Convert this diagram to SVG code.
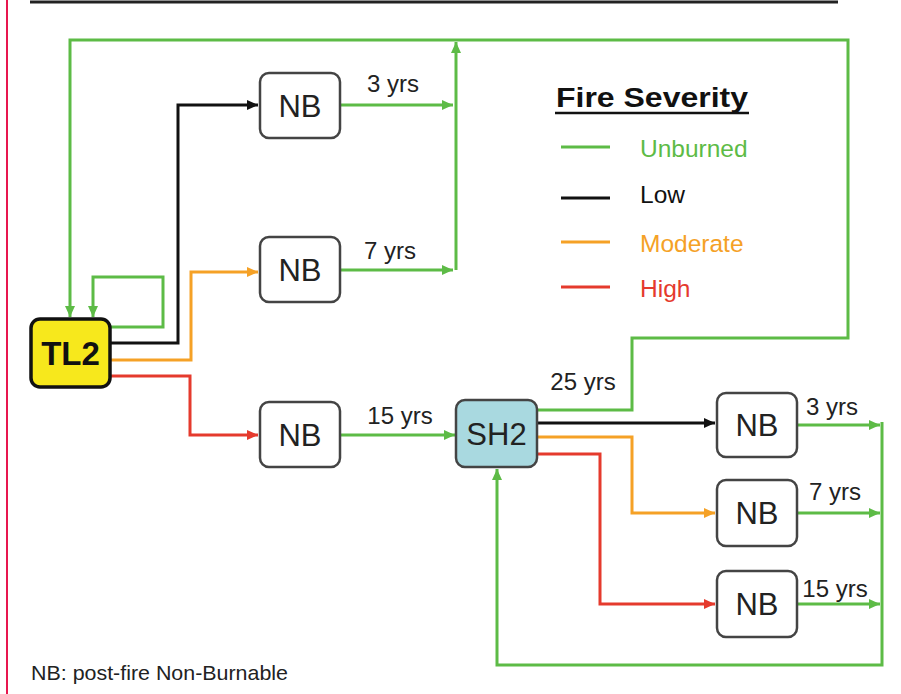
<svg xmlns="http://www.w3.org/2000/svg" width="901" height="694" viewBox="0 0 901 694">
<style>
text{font-family:"Liberation Sans",Arial,sans-serif;fill:#222}
.box{fill:#fff;stroke:#444;stroke-width:2.5}
.nb{font-size:31px;text-anchor:middle}
.lbl{font-size:24px;text-anchor:middle}
.c{fill:none;stroke-width:3;stroke-linejoin:miter}
.g{stroke:#5dbb46}.k{stroke:#111}.o{stroke:#f5a126}.r{stroke:#e53a2d}
.leg{font-size:24.5px}
</style>
<defs>
<marker id="ag" markerUnits="userSpaceOnUse" markerWidth="12" markerHeight="10" refX="11" refY="5" orient="auto"><path d="M0,0 L11,5 L0,10 z" fill="#5dbb46"/></marker>
<marker id="ak" markerUnits="userSpaceOnUse" markerWidth="12" markerHeight="10" refX="11" refY="5" orient="auto"><path d="M0,0 L11,5 L0,10 z" fill="#111"/></marker>
<marker id="ao" markerUnits="userSpaceOnUse" markerWidth="12" markerHeight="10" refX="11" refY="5" orient="auto"><path d="M0,0 L11,5 L0,10 z" fill="#f5a126"/></marker>
<marker id="ar" markerUnits="userSpaceOnUse" markerWidth="12" markerHeight="10" refX="11" refY="5" orient="auto"><path d="M0,0 L11,5 L0,10 z" fill="#e53a2d"/></marker>
</defs>
<rect width="901" height="694" fill="#fff"/>
<line x1="7" y1="0" x2="7" y2="694" stroke="#e8174f" stroke-width="2"/>
<line x1="30" y1="2" x2="838" y2="2" stroke="#222" stroke-width="3"/>

<g id="connectors">
<path class="c g" d="M110,327 H163 V277 H93 V317" marker-end="url(#ag)"/>
<path class="c g" d="M537,410 H632 V338 H848 V40 H70 V317" marker-end="url(#ag)"/>
<path class="c g" d="M340,105 H453" marker-end="url(#ag)"/>
<path class="c g" d="M340,270 H453" marker-end="url(#ag)"/>
<path class="c g" d="M456,270 V42" marker-end="url(#ag)"/>
<path class="c k" d="M110,343 H178 V105 H258" marker-end="url(#ak)"/>
<path class="c o" d="M110,360 H191 V272 H258" marker-end="url(#ao)"/>
<path class="c r" d="M110,376 H190 V435 H258" marker-end="url(#ar)"/>
<path class="c g" d="M340,435 H455" marker-end="url(#ag)"/>
<path class="c k" d="M537,423 H715" marker-end="url(#ak)"/>
<path class="c o" d="M537,437 H632 V513 H715" marker-end="url(#ao)"/>
<path class="c r" d="M537,454 H600 V604 H715" marker-end="url(#ar)"/>
<path class="c g" d="M797,425 H880" marker-end="url(#ag)"/>
<path class="c g" d="M797,513 H880" marker-end="url(#ag)"/>
<path class="c g" d="M797,604 H880" marker-end="url(#ag)"/>
<path class="c g" d="M882,422 V665 H497 V469" marker-end="url(#ag)"/>
<text class="lbl" x="393" y="92">3 yrs</text>
<text class="lbl" x="390" y="259">7 yrs</text>
<text class="lbl" x="400" y="424">15 yrs</text>
<text class="lbl" x="583" y="390">25 yrs</text>
<text class="lbl" x="832" y="415">3 yrs</text>
<text class="lbl" x="835" y="500">7 yrs</text>
<text class="lbl" x="835" y="597">15 yrs</text>
</g>

<g id="TL2">
<rect x="31" y="319" width="79" height="68" rx="9" fill="#f7e81c" stroke="#111" stroke-width="3.5"/>
<text x="70.5" y="365" font-size="33" font-weight="bold" text-anchor="middle" style="fill:#111">TL2</text>
</g>
<g id="NB1"><rect class="box" x="260" y="73" width="80" height="65" rx="9"/><text class="nb" x="300" y="117">NB</text></g>
<g id="NB2"><rect class="box" x="260" y="237" width="80" height="65" rx="9"/><text class="nb" x="300" y="281">NB</text></g>
<g id="NB3"><rect class="box" x="260" y="402" width="80" height="65" rx="9"/><text class="nb" x="300" y="446">NB</text></g>
<g id="SH2"><rect x="456" y="400" width="81" height="67" rx="9" fill="#a9d9e0" stroke="#444" stroke-width="2.5"/><text class="nb" x="496.5" y="445">SH2</text></g>
<g id="NB4"><rect class="box" x="717" y="393" width="80" height="64" rx="9"/><text class="nb" x="757" y="436">NB</text></g>
<g id="NB5"><rect class="box" x="717" y="480" width="80" height="66" rx="9"/><text class="nb" x="757" y="524">NB</text></g>
<g id="NB6"><rect class="box" x="717" y="571" width="80" height="66" rx="9"/><text class="nb" x="757" y="615">NB</text></g>

<g id="legend">
<text x="556" y="107" font-size="27" font-weight="bold" textLength="192" lengthAdjust="spacingAndGlyphs" style="fill:#111">Fire Severity</text>
<line x1="555" y1="113" x2="749" y2="113" stroke="#111" stroke-width="2.5"/>
<line x1="561" y1="147" x2="610" y2="147" stroke="#5dbb46" stroke-width="3"/>
<line x1="561" y1="198" x2="610" y2="198" stroke="#111" stroke-width="3"/>
<line x1="561" y1="242" x2="610" y2="242" stroke="#f5a126" stroke-width="3"/>
<line x1="561" y1="287" x2="610" y2="287" stroke="#e53a2d" stroke-width="3"/>
<text class="leg" x="640" y="157" style="fill:#5dbb46">Unburned</text>
<text class="leg" x="640" y="203" style="fill:#111">Low</text>
<text class="leg" x="640" y="252" style="fill:#f5a126">Moderate</text>
<text class="leg" x="640" y="297" style="fill:#e53a2d">High</text>
</g>
<text x="31" y="680" font-size="21" textLength="257" lengthAdjust="spacingAndGlyphs" style="fill:#222">NB: post-fire Non-Burnable</text>
</svg>
